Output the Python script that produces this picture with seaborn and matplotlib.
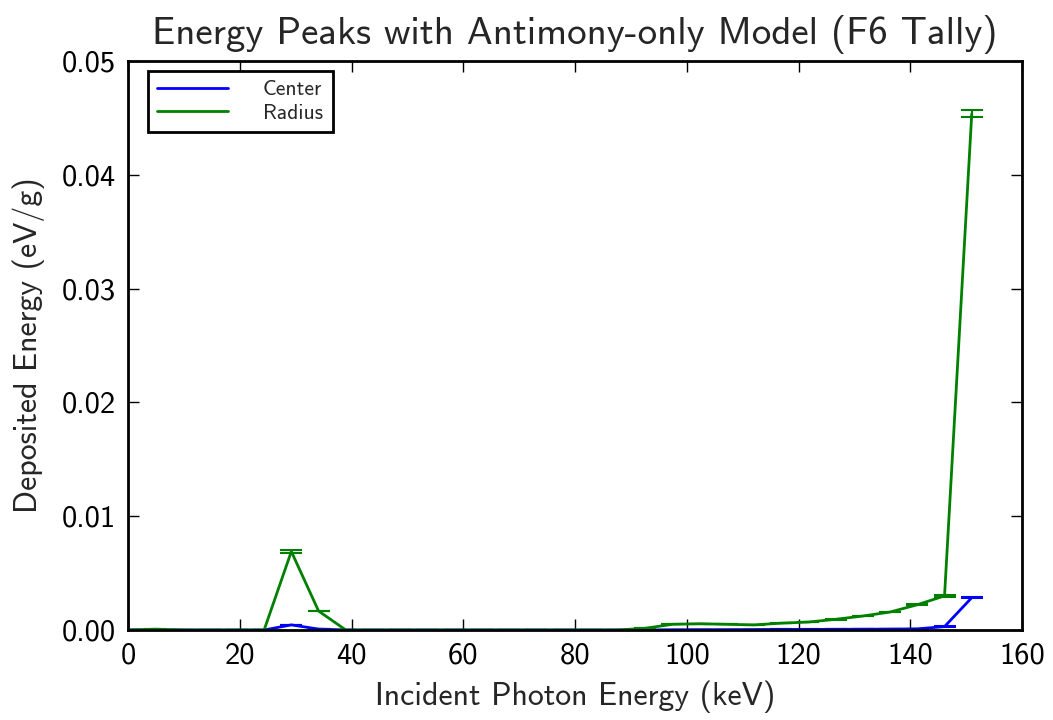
import numpy as np
import pandas as pd
import matplotlib
matplotlib.use("Agg")
import matplotlib.pyplot as plt
import seaborn as sns

# Incident photon energies (keV)
energy = np.linspace(0, 151, 32)

# Deposited energy per unit mass (eV/g) at the center and at the radius
center = [0.0, 0.0, 0.0, 0.0, 0.0, 0.0, 0.00045, 0.00008, 0.0, 0.0,
          0.0, 0.0, 0.0, 0.0, 0.0, 0.0, 0.0, 0.0, 0.0, 0.0,
          0.00002, 0.00003, 0.00003, 0.00004, 0.00005, 0.00005, 0.00006, 0.00007, 0.00008, 0.0001,
          0.0003, 0.00284]
radius = [0.0, 0.00007, 0.0, 0.0, 0.0, 0.0, 0.0069, 0.00167, 0.0, 0.0,
          0.0, 0.0, 0.0, 0.0, 0.0, 0.0, 0.0, 0.0, 0.0, 0.00015,
          0.0005, 0.00055, 0.0005, 0.00045, 0.0006, 0.0007, 0.00094, 0.00123, 0.00158, 0.00222,
          0.003, 0.04535]

# One-sigma uncertainties
center_err = [0.0, 0.0, 0.0, 0.0, 0.0, 0.0, 0.00003, 0.00001, 0.0, 0.0,
              0.0, 0.0, 0.0, 0.0, 0.0, 0.0, 0.0, 0.0, 0.0, 0.0,
              0.0, 0.0, 0.0, 0.0, 0.0, 0.0, 0.0, 0.0, 0.0, 0.00001,
              0.00002, 0.00006]
radius_err = [0.0, 0.0, 0.0, 0.0, 0.0, 0.0, 0.0001, 0.00004, 0.0, 0.0,
              0.0, 0.0, 0.0, 0.0, 0.0, 0.0, 0.0, 0.0, 0.0, 0.0,
              0.00001, 0.00001, 0.00001, 0.00001, 0.00001, 0.00002, 0.00002, 0.00003, 0.00003, 0.00005,
              0.00006, 0.0003]

series_names = ["Center", "Radius"]
colors = {"Center": "#0000ff", "Radius": "#008000"}

sns.set_style("ticks")
plt.rcParams["font.family"] = ["cmss10", "DejaVu Sans"]
plt.rcParams["axes.unicode_minus"] = False
plt.rcParams["mathtext.fontset"] = "cm"

df = pd.concat([
    pd.DataFrame({"energy": energy, "dose": center, "err": center_err, "series": "Center"}),
    pd.DataFrame({"energy": energy, "dose": radius, "err": radius_err, "series": "Radius"}),
])

fig = plt.figure(figsize=(10.53, 7.2), dpi=100)
ax = fig.add_axes([0.1216, 0.125, 0.8490, 0.7903])

sns.lineplot(data=df, x="energy", y="dose", hue="series", hue_order=series_names,
             palette=colors, linewidth=2, ax=ax, errorbar=None)

for name in series_names:
    sub = df[df["series"] == name]
    ax.errorbar(sub["energy"], sub["dose"], yerr=sub["err"], fmt="none",
                ecolor=colors[name], elinewidth=1.5, capsize=8, capthick=1.5)

ax.set_xlim(0, 160)
ax.set_ylim(0, 0.05)
ax.set_xticks(np.arange(0, 161, 20))
ax.set_yticks(np.arange(0, 0.051, 0.01))
ax.set_yticklabels([f"{v:.2f}" for v in np.arange(0, 0.051, 0.01)])

ax.tick_params(direction="in", length=8, width=1, top=True, right=True,
               labelsize=22, colors="black", pad=9)
for s in ax.spines.values():
    s.set_linewidth(2)
    s.set_color("black")
    s.set_visible(True)

ax.set_xlabel("Incident Photon Energy (keV)", fontsize=23, labelpad=8)
ax.set_ylabel("Deposited Energy (eV/g)", fontsize=23, labelpad=12)
ax.set_title("Energy Peaks with Antimony-only Model (F6 Tally)", fontsize=28, pad=12)

leg = ax.legend(loc="upper left", fontsize=15.5, handlelength=3.3, frameon=True,
                fancybox=False, borderpad=0.45, bbox_to_anchor=(0.022, 0.983),
                handletextpad=1.6, borderaxespad=0.0, labelspacing=0.2)
leg.get_frame().set_edgecolor("black")
leg.get_frame().set_linewidth(2)
leg.get_frame().set_alpha(1)

fig.savefig("out.png", dpi=100)
